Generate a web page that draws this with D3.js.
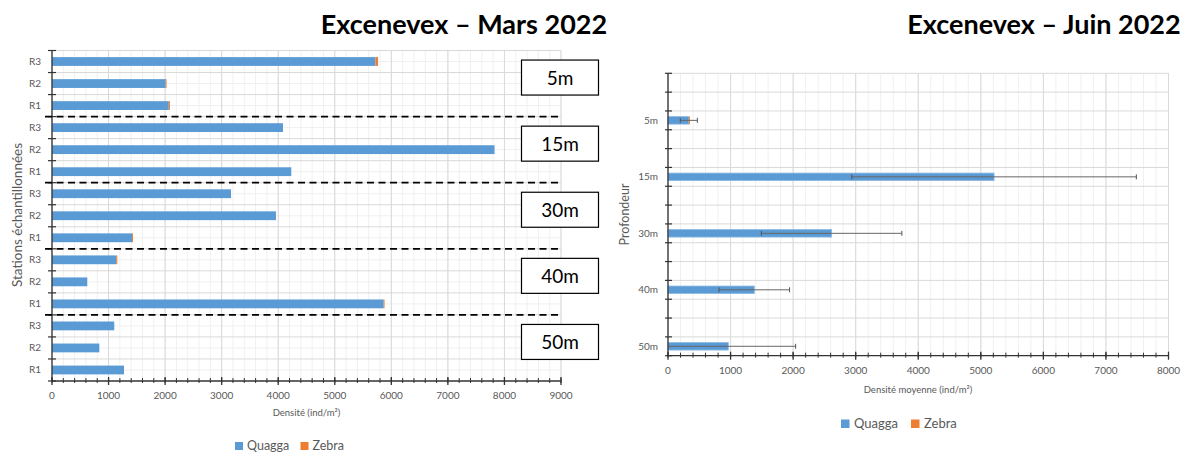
<!DOCTYPE html>
<html>
<head>
<meta charset="utf-8">
<script src="https://cdn.jsdelivr.net/npm/d3@7"></script>
<style>
    body { margin: 0; background: #fff; }
    text { font-family: Lato, "Open Sans", sans-serif; }
</style>
</head>
<body>
<svg id="chart" width="1184" height="452"></svg>
<script>
(function () {
    'use strict';

    // ---- data ----
    var depths = ["5m", "15m", "30m", "40m", "50m"];
    var stations = ["R1", "R2", "R3"];
    // Mars 2022, per depth, stations R1, R2, R3
    var quaggaMars = [[2065, 2010, 5720], [4231, 7825, 4084], [1415, 3960, 3165], [5865, 624, 1135], [1273, 837, 1101]];
    var zebraMars = [[20, 15, 45], [0, 0, 0], [17, 0, 0], [15, 0, 20], [0, 0, 0]];
    // Juin 2022, mean per depth
    var quaggaJuin = [333, 5212, 2615, 1379, 963];
    var zebraJuin = [18, 0, 0, 0, 0];
    var errJuin = [136, 2274, 1123, 564, 1077];
    var marsTicks = d3.range(0, 9001, 1000);
    var juinTicks = d3.range(0, 8001, 1000);
    var series = ["Quagga", "Zebra"];
    var colors = { Quagga: "#5B9BD5", Zebra: "#ED7D31" };

    var svg = d3.select("#chart");

    // ================= left chart: Mars =================
    var rowsMars = [];
    depths.forEach(function (d, i) {
        [2, 1, 0].forEach(function (s) {
            rowsMars.push({ depth: i, station: stations[s], q: quaggaMars[i][s], z: zebraMars[i][s] });
        });
    });
    var x1 = d3.scaleLinear().domain([0, 9000]).range([52, 561]);
    var y1 = d3.scaleBand().domain(d3.range(rowsMars.length)).range([50.5, 381]).padding(0);
    var bw1 = y1.bandwidth();
    var g1 = svg.append("g");

    // minor grid
    g1.selectAll(".vminor").data(d3.range(0, 9001, 200)).enter().append("line")
        .attr("x1", function (d) { return x1(d); }).attr("x2", function (d) { return x1(d); })
        .attr("y1", 50.5).attr("y2", 381)
        .style("stroke", "#F0F0F0").style("stroke-width", 1);
    g1.selectAll(".hminor").data(d3.range(rowsMars.length)).enter().append("line")
        .attr("x1", 52).attr("x2", 561)
        .attr("y1", function (d) { return y1(d) + bw1 / 2; }).attr("y2", function (d) { return y1(d) + bw1 / 2; })
        .style("stroke", "#F0F0F0").style("stroke-width", 1);
    // major grid
    g1.selectAll(".vmajor").data(marsTicks).enter().append("line")
        .attr("x1", function (d) { return x1(d); }).attr("x2", function (d) { return x1(d); })
        .attr("y1", 50.5).attr("y2", 381)
        .style("stroke", "#D9D9D9").style("stroke-width", 1);
    g1.selectAll(".hmajor").data(d3.range(rowsMars.length)).enter().append("line")
        .attr("x1", 52).attr("x2", 561)
        .attr("y1", function (d) { return y1(d); }).attr("y2", function (d) { return y1(d); })
        .style("stroke", "#D9D9D9").style("stroke-width", 1);

    // bars
    g1.selectAll(".barQ").data(rowsMars).enter().append("rect")
        .attr("x", x1(0))
        .attr("y", function (d, i) { return y1(i) + bw1 * 0.3; })
        .attr("width", function (d) { return x1(d.q) - x1(0); })
        .attr("height", bw1 * 0.4)
        .style("fill", colors.Quagga);
    g1.selectAll(".barZ").data(rowsMars).enter().append("rect")
        .attr("x", function (d) { return x1(d.q); })
        .attr("y", function (d, i) { return y1(i) + bw1 * 0.3; })
        .attr("width", function (d) { return x1(d.q + d.z) - x1(d.q); })
        .attr("height", bw1 * 0.4)
        .style("fill", colors.Zebra);

    // axes
    g1.append("line").attr("x1", 52).attr("x2", 52).attr("y1", 50.5).attr("y2", 381)
        .style("stroke", "#333").style("stroke-width", 1.3);
    g1.append("line").attr("x1", 52).attr("x2", 561).attr("y1", 381).attr("y2", 381)
        .style("stroke", "#333").style("stroke-width", 1.3);
    g1.selectAll(".ytick").data(d3.range(rowsMars.length + 1)).enter().append("line")
        .attr("x1", 48).attr("x2", 56)
        .attr("y1", function (d) { return 50.5 + d * bw1; }).attr("y2", function (d) { return 50.5 + d * bw1; })
        .style("stroke", "#333").style("stroke-width", 1.2);
    g1.selectAll(".xminortick").data(d3.range(0, 9001, 200)).enter().append("line")
        .attr("x1", function (d) { return x1(d); }).attr("x2", function (d) { return x1(d); })
        .attr("y1", 378).attr("y2", 383)
        .style("stroke", "#333").style("stroke-width", 1);
    g1.selectAll(".xtick").data(marsTicks).enter().append("line")
        .attr("x1", function (d) { return x1(d); }).attr("x2", function (d) { return x1(d); })
        .attr("y1", 377).attr("y2", 385)
        .style("stroke", "#333").style("stroke-width", 1.3);
    g1.selectAll(".xlabel").data(marsTicks).enter().append("text")
        .attr("x", function (d) { return x1(d); }).attr("y", 399)
        .attr("text-anchor", "middle")
        .style("font-size", "10px").style("fill", "#595959")
        .text(function (d) { return d; });
    g1.selectAll(".ylabel").data(rowsMars).enter().append("text")
        .attr("x", 41).attr("y", function (d, i) { return y1(i) + bw1 / 2 + 3.5; })
        .attr("text-anchor", "end")
        .style("font-size", "10px").style("fill", "#595959")
        .text(function (d) { return d.station; });

    // dashed separators between depths
    g1.selectAll(".sep").data(d3.range(1, depths.length)).enter().append("line")
        .attr("x1", 45).attr("x2", 561)
        .attr("y1", function (d) { return y1(d * 3); }).attr("y2", function (d) { return y1(d * 3); })
        .style("stroke", "#000").style("stroke-width", 1.8).style("stroke-dasharray", "7,4.5");

    // depth boxes
    var boxes = g1.selectAll(".box").data(depths).enter().append("g")
        .attr("transform", function (d, i) { return "translate(561," + (y1(i * 3) + bw1 * 1.5 - 6) + ")"; });
    boxes.append("rect").attr("x", -39.5).attr("y", -17.5).attr("width", 77).attr("height", 35)
        .style("fill", "#fff").style("stroke", "#000").style("stroke-width", 1.2);
    boxes.append("text").attr("x", -1).attr("y", 7)
        .attr("text-anchor", "middle").style("font-size", "19px").style("fill", "#000")
        .text(function (d) { return d; });

    // titles
    svg.append("text").attr("x", 464).attr("y", 34).attr("text-anchor", "middle")
        .style("font-size", "27px").style("font-weight", "bold").text("Excenevex – Mars 2022");
    svg.append("text").attr("transform", "translate(22,215) rotate(-90)").attr("text-anchor", "middle")
        .style("font-size", "13.5px").style("fill", "#595959").text("Stations échantillonnées");
    svg.append("text").attr("x", 306.5).attr("y", 416).attr("text-anchor", "middle")
        .style("font-size", "9.5px").style("fill", "#595959").text("Densité (ind/m²)");

    // legend
    var leg1 = svg.selectAll(".leg1").data(series).enter().append("g")
        .attr("transform", function (d, i) { return "translate(" + (235 + i * 65.5) + ",442)"; });
    leg1.append("rect").attr("width", 8).attr("height", 8).style("fill", function (d) { return colors[d]; });
    leg1.append("text").attr("x", 12).attr("y", 8).style("font-size", "12.5px").style("fill", "#595959")
        .text(function (d) { return d; });

    // ================= right chart: Juin =================
    var nRows2 = depths.length * 3;
    var x2 = d3.scaleLinear().domain([0, 8000]).range([668, 1168.5]);
    var y2 = d3.scaleBand().domain(d3.range(nRows2)).range([73.3, 355.7]).padding(0);
    var bw2 = y2.bandwidth();
    var g2 = svg.append("g");
    var juin = depths.map(function (d, i) {
        return { depth: d, row: i * 3 + 2, q: quaggaJuin[i], z: zebraJuin[i], e: errJuin[i] };
    });

    g2.selectAll(".vminor").data(d3.range(0, 8001, 200)).enter().append("line")
        .attr("x1", function (d) { return x2(d); }).attr("x2", function (d) { return x2(d); })
        .attr("y1", 73.3).attr("y2", 355.7)
        .style("stroke", "#F0F0F0").style("stroke-width", 1);
    g2.selectAll(".vmajor").data(juinTicks).enter().append("line")
        .attr("x1", function (d) { return x2(d); }).attr("x2", function (d) { return x2(d); })
        .attr("y1", 73.3).attr("y2", 355.7)
        .style("stroke", "#D9D9D9").style("stroke-width", 1);
    g2.selectAll(".hmajor").data(d3.range(nRows2)).enter().append("line")
        .attr("x1", 668).attr("x2", 1168.5)
        .attr("y1", function (d) { return y2(d); }).attr("y2", function (d) { return y2(d); })
        .style("stroke", "#D9D9D9").style("stroke-width", 1);

    g2.selectAll(".barQ").data(juin).enter().append("rect")
        .attr("x", x2(0))
        .attr("y", function (d) { return y2(d.row) + bw2 * 0.3; })
        .attr("width", function (d) { return x2(d.q) - x2(0); })
        .attr("height", bw2 * 0.4)
        .style("fill", colors.Quagga).style("stroke", "#8DB9E2").style("stroke-width", 0.8);
    g2.selectAll(".barZ").data(juin).enter().append("rect")
        .attr("x", function (d) { return x2(d.q); })
        .attr("y", function (d) { return y2(d.row) + bw2 * 0.3; })
        .attr("width", function (d) { return x2(d.q + d.z) - x2(d.q); })
        .attr("height", bw2 * 0.4)
        .style("fill", colors.Zebra);

    // error bars
    var eb = g2.selectAll(".err").data(juin).enter().append("g");
    eb.append("line")
        .attr("x1", function (d) { return x2(Math.max(0, d.q - d.e)); })
        .attr("x2", function (d) { return x2(d.q + d.e); })
        .attr("y1", function (d) { return y2(d.row) + bw2 / 2; })
        .attr("y2", function (d) { return y2(d.row) + bw2 / 2; })
        .style("stroke", "#666").style("stroke-width", 1);
    eb.selectAll(".cap").data(function (d) {
        var c = [d.q + d.e];
        if (d.q - d.e >= 0) c.push(d.q - d.e);
        return c.map(function (v) { return { v: v, row: d.row }; });
    }).enter().append("line")
        .attr("x1", function (c) { return x2(c.v); }).attr("x2", function (c) { return x2(c.v); })
        .attr("y1", function (c) { return y2(c.row) + bw2 / 2 - 2.5; })
        .attr("y2", function (c) { return y2(c.row) + bw2 / 2 + 2.5; })
        .style("stroke", "#555").style("stroke-width", 1);

    g2.append("line").attr("x1", 668).attr("x2", 668).attr("y1", 73.3).attr("y2", 355.7)
        .style("stroke", "#333").style("stroke-width", 1.3);
    g2.append("line").attr("x1", 668).attr("x2", 1168.5).attr("y1", 355.7).attr("y2", 355.7)
        .style("stroke", "#333").style("stroke-width", 1.3);
    g2.selectAll(".ytick").data(d3.range(nRows2 + 1)).enter().append("line")
        .attr("x1", 665).attr("x2", 672)
        .attr("y1", function (d) { return 73.3 + d * bw2; }).attr("y2", function (d) { return 73.3 + d * bw2; })
        .style("stroke", "#333").style("stroke-width", 1.2);
    g2.selectAll(".xminortick").data(d3.range(0, 8001, 200)).enter().append("line")
        .attr("x1", function (d) { return x2(d); }).attr("x2", function (d) { return x2(d); })
        .attr("y1", 352.7).attr("y2", 357.7)
        .style("stroke", "#333").style("stroke-width", 1);
    g2.selectAll(".xtick").data(juinTicks).enter().append("line")
        .attr("x1", function (d) { return x2(d); }).attr("x2", function (d) { return x2(d); })
        .attr("y1", 351.7).attr("y2", 359.7)
        .style("stroke", "#333").style("stroke-width", 1.3);
    g2.selectAll(".xlabel").data(juinTicks).enter().append("text")
        .attr("x", function (d) { return x2(d); }).attr("y", 373.5)
        .attr("text-anchor", "middle")
        .style("font-size", "10px").style("fill", "#595959")
        .text(function (d) { return d; });
    g2.selectAll(".ylabel").data(juin).enter().append("text")
        .attr("x", 658).attr("y", function (d) { return y2(d.row) + bw2 / 2 + 3.5; })
        .attr("text-anchor", "end")
        .style("font-size", "10px").style("fill", "#595959")
        .text(function (d) { return d.depth; });

    svg.append("text").attr("x", 1044).attr("y", 34).attr("text-anchor", "middle")
        .style("font-size", "27px").style("font-weight", "bold").text("Excenevex – Juin 2022");
    svg.append("text").attr("transform", "translate(629,214.5) rotate(-90)").attr("text-anchor", "middle")
        .style("font-size", "12.5px").style("fill", "#595959").text("Profondeur");
    svg.append("text").attr("x", 918).attr("y", 393).attr("text-anchor", "middle")
        .style("font-size", "9.5px").style("fill", "#595959").text("Densité moyenne (ind/m²)");

    var leg2 = svg.selectAll(".leg2").data(series).enter().append("g")
        .attr("transform", function (d, i) { return "translate(" + (841 + i * 70) + ",419.5)"; });
    leg2.append("rect").attr("width", 8.5).attr("height", 8.5).style("fill", function (d) { return colors[d]; });
    leg2.append("text").attr("x", 13).attr("y", 8.5).style("font-size", "13px").style("fill", "#595959")
        .text(function (d) { return d; });
}());
</script>
</body>
</html>
